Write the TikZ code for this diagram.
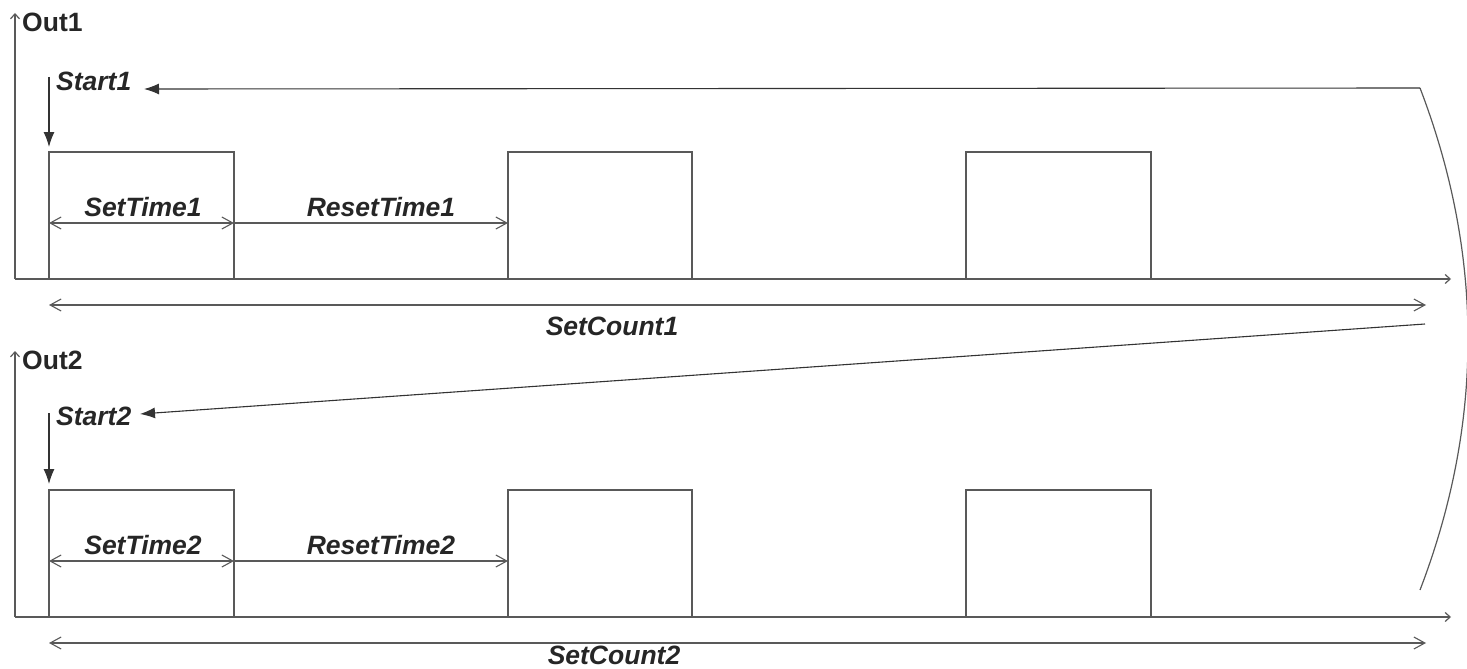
\documentclass[tikz,border=0pt]{standalone}
\usepackage{fontspec}
\setmainfont{Liberation Sans}
\usetikzlibrary{arrows.meta}
\definecolor{ln}{gray}{0.35}
\tikzset{
  x=1pt, y=-1pt,
  wave/.style={draw=ln, line width=1.3pt},
  axis/.style={draw=ln, line width=1.2pt, -{Straight Barb[length=5pt,width=9pt]}},
  dim/.style={draw=ln, line width=1.1pt, {Straight Barb[length=11pt,width=12pt]}-{Straight Barb[length=11pt,width=12pt]}},
  dimr/.style={draw=ln, line width=1.1pt, -{Straight Barb[length=11pt,width=12pt]}},
  conn/.style={draw=black!80, line width=1.1pt, -{Latex[length=15pt,width=11pt]}},
  lbl/.style={font=\fontsize{26.5}{30}\selectfont\bfseries\itshape, inner sep=0pt, text=black!85},
  ttl/.style={font=\fontsize{26.5}{30}\selectfont\bfseries, inner sep=0pt, text=black!85},
}
\begin{document}
\begin{tikzpicture}
\useasboundingbox (0,0) rectangle (1467,669);
% ---------- channel 1 ----------
\coordinate (o1) at (15,279);
\coordinate (y1) at (15,13);
\coordinate (x1) at (1451,279);
\draw[axis] (o1) -- (y1);
\draw[axis] (o1) -- (x1);
\node[ttl, anchor=west] (out1) at (22,22) {Out1};
\node[lbl, anchor=west] (start1) at (56,81) {Start1};
\coordinate (s1a) at (49,77);
\coordinate (s1b) at (49,147);
\draw[conn] (s1a) -- (s1b);
\draw[wave] (15,279) -- (49,279) -- (49,152) -- (234,152) -- (234,279) -- (508,279) -- (508,152) -- (692,152) -- (692,279)
  -- (966,279) -- (966,152) -- (1151,152) -- (1151,279) -- (1420,279);
\coordinate (st1a) at (49,223);
\coordinate (st1b) at (234,223);
\coordinate (rt1b) at (508,223);
\draw[dim] (st1a) -- (st1b);
\draw[dimr] (st1b) -- (rt1b);
\node[lbl] (settime1) at (143,207) {SetTime1};
\node[lbl] (resettime1) at (381,207) {ResetTime1};
\coordinate (c1a) at (49,305);
\coordinate (c1b) at (1426,305);
\draw[dim] (c1a) -- (c1b);
\node[lbl] (setcount1) at (612,326) {SetCount1};
% ---------- channel 2 ----------
\coordinate (o2) at (15,617);
\coordinate (y2) at (15,351);
\coordinate (x2) at (1451,617);
\draw[axis] (o2) -- (y2);
\draw[axis] (o2) -- (x2);
\node[ttl, anchor=west] (out2) at (22,360) {Out2};
\node[lbl, anchor=west] (start2) at (56,416) {Start2};
\coordinate (s2a) at (49,413);
\coordinate (s2b) at (49,484);
\draw[conn] (s2a) -- (s2b);
\draw[wave] (15,617) -- (49,617) -- (49,490) -- (234,490) -- (234,617) -- (508,617) -- (508,490) -- (692,490) -- (692,617)
  -- (966,617) -- (966,490) -- (1151,490) -- (1151,617) -- (1420,617);
\coordinate (st2a) at (49,561);
\coordinate (st2b) at (234,561);
\coordinate (rt2b) at (508,561);
\draw[dim] (st2a) -- (st2b);
\draw[dimr] (st2b) -- (rt2b);
\node[lbl] (settime2) at (143,545) {SetTime2};
\node[lbl] (resettime2) at (381,545) {ResetTime2};
\coordinate (c2a) at (49,643);
\coordinate (c2b) at (1426,643);
\draw[dim] (c2a) -- (c2b);
\node[lbl] (setcount2) at (614,655) {SetCount2};
% ---------- feedback connectors ----------
\coordinate (r1) at (1420,88);
\coordinate (r2) at (1420,590);
\coordinate (r3) at (1425,324);
\coordinate (t1) at (144,89);
\coordinate (t2) at (140,414);
\draw[draw=ln, line width=1.2pt] (r1) .. controls (1484,255) and (1484,423) .. (r2);
\draw[conn] (r1) -- (t1);
\draw[conn] (r3) -- (t2);
\end{tikzpicture}
\end{document}
